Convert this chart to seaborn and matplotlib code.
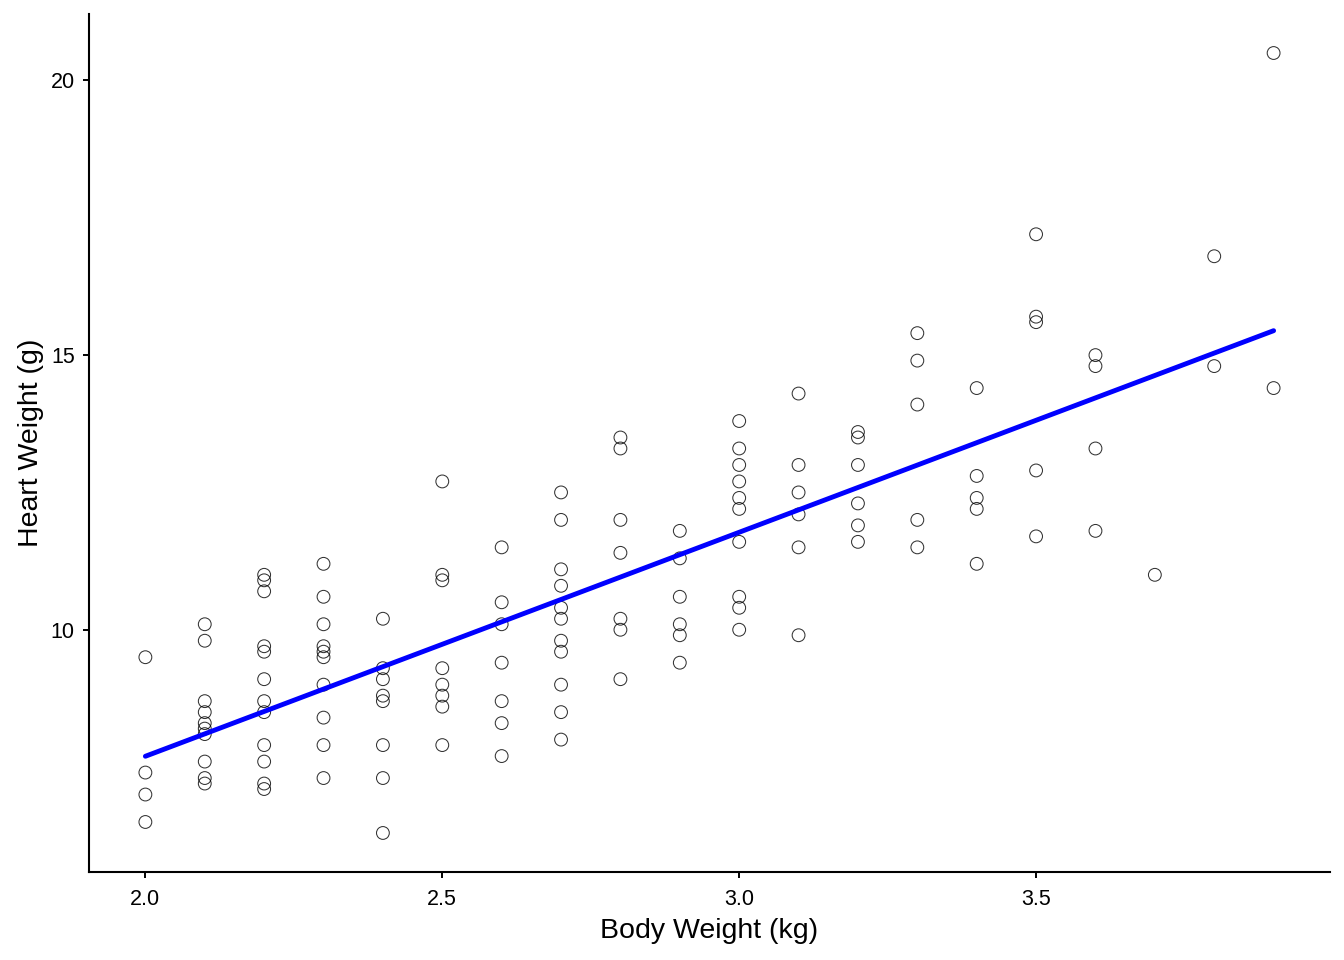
import numpy as np
import pandas as pd
import matplotlib
matplotlib.use("Agg")
import matplotlib.pyplot as plt
import seaborn as sns

# body weight (kg) -> heart weights (g)
bwt_levels = [2.0, 2.1, 2.2, 2.3, 2.4, 2.5, 2.6, 2.7, 2.8, 2.9,
              3.0, 3.1, 3.2, 3.3, 3.4, 3.5, 3.6, 3.7, 3.8, 3.9]
hwt_by_bwt = [
    [9.5, 7.4, 7.0, 6.5],
    [10.1, 9.8, 8.7, 8.5, 8.3, 8.2, 8.1, 7.6, 7.3, 7.2],
    [11.0, 10.9, 10.7, 9.7, 9.6, 9.1, 8.7, 8.5, 7.9, 7.6, 7.2, 7.1],
    [11.2, 10.6, 10.1, 9.7, 9.6, 9.5, 9.0, 8.4, 7.9, 7.3],
    [10.2, 9.3, 9.1, 8.8, 8.7, 7.9, 7.3, 6.3],
    [12.7, 11.0, 10.9, 9.3, 9.0, 8.8, 8.6, 7.9],
    [11.5, 10.5, 10.1, 9.4, 8.7, 8.3, 7.7],
    [12.5, 12.0, 11.1, 10.8, 10.4, 10.2, 9.8, 9.6, 9.0, 8.5, 8.0],
    [13.5, 13.3, 12.0, 11.4, 10.2, 10.0, 9.1],
    [11.8, 11.3, 10.6, 10.1, 9.9, 9.4],
    [13.8, 13.3, 13.0, 12.7, 12.4, 12.2, 11.6, 10.6, 10.4, 10.0],
    [14.3, 13.0, 12.5, 12.1, 11.5, 9.9],
    [13.6, 13.5, 13.0, 12.3, 11.9, 11.6],
    [15.4, 14.9, 14.1, 12.0, 11.5],
    [14.4, 12.8, 12.4, 12.2, 11.2],
    [17.2, 15.7, 15.6, 12.9, 11.7],
    [15.0, 14.8, 13.3, 11.8],
    [11.0],
    [16.8, 14.8],
    [20.5, 14.4],
]

bwt = [b for b, hs in zip(bwt_levels, hwt_by_bwt) for _ in hs]
hwt = [h for hs in hwt_by_bwt for h in hs]
cats = pd.DataFrame({"Bwt": bwt, "Hwt": hwt})

sns.set_style("ticks")
plt.rcParams["font.family"] = ["Liberation Sans", "DejaVu Sans"]

fig = plt.figure(figsize=(13.44, 9.6), dpi=100)
ax = fig.add_axes([0.0662, 0.0917, 0.9234, 0.8937])

sns.regplot(data=cats, x="Bwt", y="Hwt", ci=None, ax=ax,
            scatter_kws=dict(s=85, facecolors="none", edgecolors="black",
                             linewidths=0.75),
            line_kws=dict(color="#0000FF", lw=3.5))

xr = max(bwt) - min(bwt)
yr = max(hwt) - min(hwt)
ax.set_xlim(min(bwt) - 0.05 * xr, max(bwt) + 0.05 * xr)
ax.set_ylim(min(hwt) - 0.05 * yr, max(hwt) + 0.05 * yr)
ax.set_xticks([2.0, 2.5, 3.0, 3.5])
ax.set_xticklabels(["2.0", "2.5", "3.0", "3.5"])
ax.set_yticks([10, 15, 20])

ax.set_xlabel("Body Weight (kg)", fontsize=20.5, color="black", labelpad=6)
ax.set_ylabel("Heart Weight (g)", fontsize=20.5, color="black", labelpad=5)
ax.tick_params(axis="both", labelsize=15.5, labelcolor="black", color="black",
               length=4.3, width=1.4, direction="out")
ax.tick_params(axis="x", pad=8)
ax.tick_params(axis="y", pad=6)
for side in ["left", "bottom"]:
    ax.spines[side].set_linewidth(1.5)
    ax.spines[side].set_color("black")
sns.despine(ax=ax)

fig.savefig("out.png", dpi=100)
